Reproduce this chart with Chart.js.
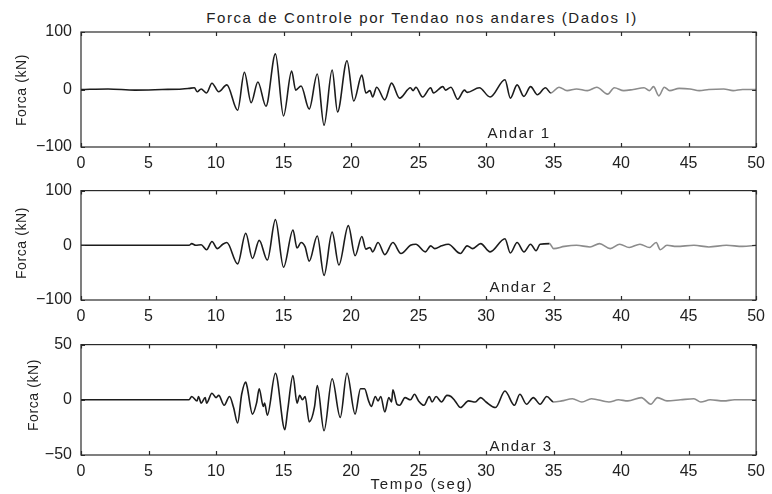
<!DOCTYPE html>
<html>
<head>
<meta charset="utf-8">
<script src="https://cdn.jsdelivr.net/npm/chart.js@4.4.0/dist/chart.umd.min.js"></script>
<style>
  body { margin: 0; background: #fff; }
  #page { position: relative; width: 772px; height: 494px; overflow: hidden; font-family: "Liberation Sans", Arial, sans-serif; color: #222; }
  canvas { position: absolute; left: 0; }
  .txt { position: absolute; transform: translate(-50%, -50%); white-space: nowrap; }
  .ylab { position: absolute; transform: translate(-50%, -50%) rotate(-90deg); white-space: nowrap; font-size: 14px; letter-spacing: 0.6px; }
</style>
</head>
<body>
<div id="page">
  <div class="txt" style="left:422px; top:17px; font-size:15px; letter-spacing:1.6px;">Forca de Controle por Tendao nos andares (Dados I)</div>
  <canvas id="andar1" width="772" height="172" style="top:0px"></canvas>
  <canvas id="andar2" width="772" height="154" style="top:172px"></canvas>
  <canvas id="andar3" width="772" height="168" style="top:326px"></canvas>
  <div class="ylab" style="left:21px; top:90px;">Forca (kN)</div>
  <div class="ylab" style="left:21px; top:243px;">Forca (kN)</div>
  <div class="ylab" style="left:33px; top:395px;">Forca (kN)</div>
  <div class="txt" style="left:519px; top:132px; font-size:15px; letter-spacing:1.5px;">Andar 1</div>
  <div class="txt" style="left:521px; top:286px; font-size:15px; letter-spacing:1.5px;">Andar 2</div>
  <div class="txt" style="left:521px; top:445px; font-size:15px; letter-spacing:1.5px;">Andar 3</div>
  <div class="txt" style="left:422px; top:483px; font-size:15px; letter-spacing:1.8px;">Tempo (seg)</div>
</div>
<script>
// Tempo (seg) e forca (kN), um par de listas por andar
const tempo1 = [0, 2, 4, 6, 7.5, 8.0, 8.4, 8.6, 8.9, 9.3, 9.7, 10.2, 10.8, 11.6, 12.1, 12.6, 13.1, 13.7, 14.4, 15.0,
  15.6, 15.9, 16.3, 16.9, 17.5, 18.0, 18.6, 19.0, 19.7, 20.2, 20.8, 21.1, 21.4, 21.6, 21.9, 22.5, 23.0, 23.6, 24.4, 24.6,
  24.8, 25.3, 25.9, 26.1, 26.8, 27.0, 27.4, 27.9, 28.4, 28.6, 29.5, 30.3, 31.4, 31.8, 32.3, 32.8, 33.3, 33.8, 34.4, 34.8,
  35.4, 36.0, 36.7, 37.5, 38.2, 39.0, 39.5, 40.2, 40.9, 41.7, 42.1, 42.4, 42.8, 43.2, 43.6, 44.3, 45.1, 45.8, 46.5, 47.6,
  48.3, 49.0, 50];
const forca1 = [0, 1, -1, 0, 1, 2, 3, -4, 1, -6, 11, -4, 8, -36, 30, -23, 13, -29, 62, -46,
  32, -1, 6, -34, 27, -62, 34, -39, 50, -20, 25, -6, -2, -13, 4, -18, 11, -15, 3, -2,
  4, -13, 3, -6, 5, -1, 4, -17, -1, -5, 3, -13, 17, -15, 8, -12, 5, -9, 3, -6,
  4, -2, 1, -2, 4, -8, 3, -2, 0, 3, -2, 5, -11, 4, -2, 2, 1, -2, 0, 1,
  -2, 0, 0];

const tempo2 = [0, 3, 6, 8.0, 8.2, 8.5, 8.9, 9.3, 9.7, 10.1, 10.5, 10.8, 11.6, 12.2, 12.7, 13.2, 13.8, 14.4, 15.0, 15.7,
  16.0, 16.3, 16.6, 16.9, 17.5, 18.0, 18.6, 19.1, 19.8, 20.3, 20.8, 21.1, 21.4, 21.6, 22.0, 22.5, 23.1, 23.7, 24.4, 24.8,
  25.5, 25.9, 26.2, 26.7, 27.2, 28.1, 28.6, 29.0, 29.6, 30.3, 31.4, 31.8, 32.3, 32.8, 33.3, 33.7, 34.0, 34.7, 35.0, 35.8,
  36.7, 37.7, 38.4, 39.2, 39.9, 40.6, 41.4, 42.1, 42.6, 42.9, 43.4, 44.1, 45.4, 46.5, 47.8, 49.0, 50];
const forca2 = [0, 0, 0, 0, 3, 0, 1, -8, 7, -6, 2, 5, -34, 22, -24, 9, -27, 47, -40, 28,
  -5, 5, -3, -29, 17, -55, 24, -36, 36, -19, 16, -7, -4, -12, 5, -17, 5, -15, 0, 2,
  -12, -1, -6, -1, 2, -15, -1, -6, 3, -12, 12, -14, 5, -12, 2, -10, 2, 3, -6, -2,
  0, -3, 3, -6, 2, -4, 2, -4, 5, -8, 0, -2, 0, -3, 0, -2, 0];

const tempo3 = [0, 3, 6, 8.0, 8.2, 8.6, 8.7, 8.9, 9.2, 9.3, 9.7, 10.0, 10.2, 10.6, 11.0, 11.3, 11.6, 11.9, 12.2, 12.3,
  12.7, 13.0, 13.2, 13.5, 13.6, 13.8, 14.4, 15.1, 15.3, 15.7, 16.0, 16.2, 16.4, 16.6, 16.9, 17.3, 17.5, 18.0, 18.6, 19.2,
  19.7, 20.3, 20.7, 21.0, 21.3, 21.5, 21.8, 22.0, 22.2, 22.5, 22.8, 23.0, 23.1, 23.4, 23.6, 24.0, 24.4, 24.7, 25.0, 25.4,
  25.8, 26.0, 26.3, 26.7, 27.1, 27.4, 27.7, 28.1, 28.7, 29.2, 29.6, 30.0, 30.7, 31.4, 32.1, 32.5, 33.0, 33.5, 34.0, 34.5,
  35.0, 35.6, 36.4, 37.1, 37.8, 39.1, 39.8, 40.5, 41.5, 42.2, 42.7, 43.4, 44.4, 45.4, 45.9, 46.6, 47.6, 48.4, 50];
const forca3 = [0, 0, 0, 0, 3, -1, 3, -3, 2, -3, 6, 2, 4, -5, 3, -7, -21, 5, 16, 12,
  -13, -3, 10, -6, -3, -14, 24, -27, -10, 22, -3, 4, 0, 3, -20, -6, 13, -28, 19, -16,
  24, -13, 10, 10, -1, -6, 3, -1, 3, -11, 2, -2, 9, -4, -5, 2, 0, 5, -1, -5,
  3, -2, 3, -2, 4, 3, -1, -7, -1, -2, 2, -2, -7, 8, -5, 5, -4, 2, -4, 3,
  -2, -1, 1, -2, 1, -2, 0, -1, 2, -4, 2, -1, 0, 1, -2, 0, -1, 0, 0];

const xTicks = [0, 5, 10, 15, 20, 25, 30, 35, 40, 45, 50];
const yLim12 = [-100, 100];
const yLim3 = [-50, 50];

// caixa e marcas internas no estilo matlab
const moldura = {
  id: 'moldura',
  afterDatasetsDraw(chart) {
    const { ctx, chartArea: a, scales: { x, y } } = chart;
    ctx.save();
    ctx.strokeStyle = '#2a2a2a';
    ctx.lineWidth = 1.2;
    ctx.strokeRect(a.left, a.top, a.right - a.left, a.bottom - a.top);
    ctx.beginPath();
    x.ticks.forEach(t => {
      const px = Math.round(x.getPixelForValue(t.value)) + 0.5;
      ctx.moveTo(px, a.top); ctx.lineTo(px, a.top + 4);
      ctx.moveTo(px, a.bottom); ctx.lineTo(px, a.bottom - 4);
    });
    y.ticks.forEach(t => {
      const py = Math.round(y.getPixelForValue(t.value)) + 0.5;
      ctx.moveTo(a.left, py); ctx.lineTo(a.left + 4, py);
      ctx.moveTo(a.right, py); ctx.lineTo(a.right - 4, py);
    });
    ctx.stroke();
    ctx.restore();
  }
};

function desenha(id, tempo, forca, lim, padTop, alturaX) {
  const pontos = tempo.map((t, i) => ({ x: t, y: forca[i] }));
  new Chart(document.getElementById(id), {
    type: 'line',
    data: {
      datasets: [{
        data: pontos,
        borderColor: '#1c1c1c',
        borderWidth: 1.6,
        pointRadius: 0,
        cubicInterpolationMode: 'monotone',
        segment: {
          borderColor: c => c.p0.parsed.x >= 34.6 ? '#8c8c8c' : '#1c1c1c'
        }
      }]
    },
    options: {
      responsive: false,
      animation: false,
      events: [],
      layout: { padding: { top: padTop, right: 12, left: 0, bottom: 0 } },
      plugins: { legend: { display: false }, tooltip: { enabled: false } },
      scales: {
        x: {
          type: 'linear',
          min: 0, max: 50,
          afterBuildTicks: s => { s.ticks = xTicks.map(v => ({ value: v })); },
          grid: { display: false, drawTicks: false },
          border: { display: false },
          ticks: { padding: 7, color: '#222', font: { family: 'Liberation Sans', size: 16 }, maxRotation: 0 },
          afterFit: s => { s.height = alturaX; }
        },
        y: {
          min: lim[0], max: lim[1],
          afterBuildTicks: s => { s.ticks = [lim[0], 0, lim[1]].map(v => ({ value: v })); },
          grid: { display: false, drawTicks: false },
          border: { display: false },
          ticks: {
            padding: 9, color: '#222', font: { family: 'Liberation Sans', size: 16 },
            callback: v => v < 0 ? '\u2212' + Math.abs(v) : String(v)
          },
          afterFit: s => { s.width = 81; }
        }
      }
    },
    plugins: [moldura]
  });
}

desenha('andar1', tempo1, forca1, yLim12, 32, 25);
desenha('andar2', tempo2, forca2, yLim12, 12, 26);
desenha('andar3', tempo3, forca3, yLim3, 12, 39);
</script>
</body>
</html>
